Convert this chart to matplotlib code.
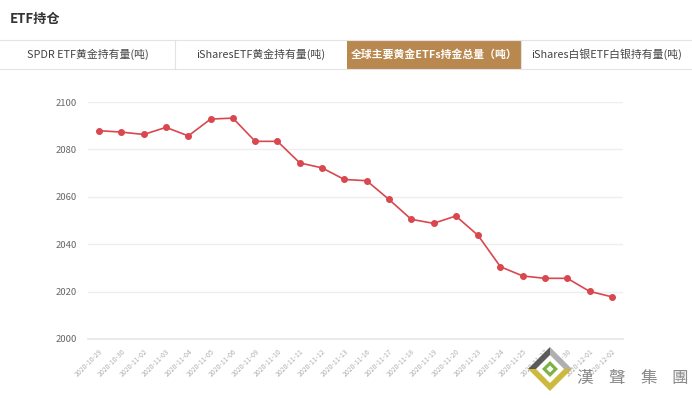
import matplotlib
matplotlib.use("Agg")
import matplotlib.pyplot as plt
from matplotlib.patches import Rectangle, Polygon

plt.rcParams['font.family'] = ['Noto Sans CJK SC', 'DejaVu Sans']

dates = ["2020-10-29", "2020-10-30", "2020-11-02", "2020-11-03", "2020-11-04",
         "2020-11-05", "2020-11-06", "2020-11-09", "2020-11-10", "2020-11-11",
         "2020-11-12", "2020-11-13", "2020-11-16", "2020-11-17", "2020-11-18",
         "2020-11-19", "2020-11-20", "2020-11-23", "2020-11-24", "2020-11-25",
         "2020-11-27", "2020-11-30", "2020-12-01", "2020-12-02"]
holdings = [2087.9, 2087.3, 2086.3, 2089.3, 2085.7, 2092.8, 2093.2, 2083.4,
            2083.4, 2074.3, 2072.2, 2067.3, 2066.8, 2058.9, 2050.5, 2048.8,
            2051.9, 2043.7, 2030.5, 2026.6, 2025.6, 2025.6, 2020.1, 2017.8]
y_ticks = [2000, 2020, 2040, 2060, 2080, 2100]
title = "ETF持仓"
tabs = ["SPDR ETF黄金持有量(吨)", "iSharesETF黄金持有量(吨)",
        "全球主要黄金ETFs持金总量（吨）", "iShares白银ETF白银持有量(吨)"]
watermark_chars = ["漢", "聲", "集", "團"]

W, H = 692, 398
fig = plt.figure(figsize=(W / 100, H / 100), dpi=100)
fig.patch.set_facecolor("white")

def fx(px):
    return px / W

def fy(py):
    return 1 - py / H

# Title
fig.text(fx(10), fy(19), title, fontsize=9.5, fontweight="bold", color="#333333",
         va="center", ha="left")

# Tab bar
tab_edges = [0, 175, 347, 521, 692]
fig.add_artist(plt.Line2D([0, 1], [fy(40), fy(40)], color="#e3e3e3", lw=0.8))
fig.add_artist(plt.Line2D([0, 1], [fy(68.5), fy(68.5)], color="#e3e3e3", lw=0.8))
for i, label in enumerate(tabs):
    x0, x1 = tab_edges[i], tab_edges[i + 1]
    active = (i == 2)
    if active:
        fig.add_artist(Rectangle((fx(x0), fy(68.5)), fx(x1 - x0), fy(40) - fy(68.5),
                                 transform=fig.transFigure, facecolor="#b9884f",
                                 edgecolor="none"))
    elif i > 0:
        fig.add_artist(plt.Line2D([fx(x0), fx(x0)], [fy(40), fy(68.5)],
                                  color="#e3e3e3", lw=0.8))
    fig.text(fx((x0 + x1) / 2), fy(54), label, fontsize=7.8,
             color="white" if active else "#444444",
             fontweight="bold" if active else "normal",
             ha="center", va="center")

# Chart
ax = fig.add_axes([fx(88), fy(339), fx(623 - 88), fy(102) - fy(339)])
x = list(range(len(dates)))
ax.plot(x, holdings, color="#d9474f", lw=1.2, marker="o", markersize=4,
        markerfacecolor="#d9474f", markeredgecolor="#d9474f", zorder=3)
ax.set_xlim(-0.5, len(dates) - 0.5)
ax.set_ylim(2000, 2100)
ax.set_yticks(y_ticks)
ax.set_yticklabels([str(v) for v in y_ticks], fontsize=6.8, color="#666666")
ax.set_xticks(x)
ax.set_xticklabels(dates, rotation=45, ha="right", rotation_mode="anchor",
                   fontsize=5, color="#b0b0b0")
ax.tick_params(axis="both", length=0)
ax.tick_params(axis="y", pad=8)
ax.tick_params(axis="x", pad=6)
ax.grid(axis="y", color="#eeeeee", lw=1)
ax.set_axisbelow(True)
for s in ["top", "right", "left"]:
    ax.spines[s].set_visible(False)
ax.spines["bottom"].set_color("#e6e6e6")
ax.spines["bottom"].set_linewidth(1.2)

# Watermark logo
cx, cy, r = 550, 369, 22
def diamond(c_x, c_y, rad):
    return [(fx(c_x), fy(c_y - rad)), (fx(c_x + rad), fy(c_y)),
            (fx(c_x), fy(c_y + rad)), (fx(c_x - rad), fy(c_y))]
fig.add_artist(Polygon([(fx(cx - r), fy(cy)), (fx(cx), fy(cy - r)), (fx(cx), fy(cy))],
                       closed=True, transform=fig.transFigure,
                       facecolor="#4a4a4a", edgecolor="none", alpha=0.9))
fig.add_artist(Polygon([(fx(cx), fy(cy - r)), (fx(cx + r), fy(cy)), (fx(cx), fy(cy))],
                       closed=True, transform=fig.transFigure,
                       facecolor="#a8a8a8", edgecolor="none", alpha=0.9))
fig.add_artist(Polygon([(fx(cx - r), fy(cy)), (fx(cx), fy(cy + r)), (fx(cx + r), fy(cy))],
                       closed=True, transform=fig.transFigure,
                       facecolor="#c9b22a", edgecolor="none", alpha=0.9))
fig.add_artist(Polygon(diamond(cx, cy, 14), closed=True, transform=fig.transFigure,
                       facecolor="white", edgecolor="none"))
fig.add_artist(Polygon(diamond(cx, cy, 8), closed=True, transform=fig.transFigure,
                       facecolor="#7cb342", edgecolor="none"))
fig.add_artist(Polygon(diamond(cx, cy, 3.5), closed=True, transform=fig.transFigure,
                       facecolor="white", edgecolor="none"))
for ch, xc in zip(watermark_chars, [585, 617, 649, 680]):
    fig.text(fx(xc), fy(378), ch, fontsize=12, color="#8a8a8a", ha="center",
             va="center", family=["Noto Sans CJK TC", "DejaVu Sans"])

fig.savefig("out.png", dpi=100, facecolor="white")
